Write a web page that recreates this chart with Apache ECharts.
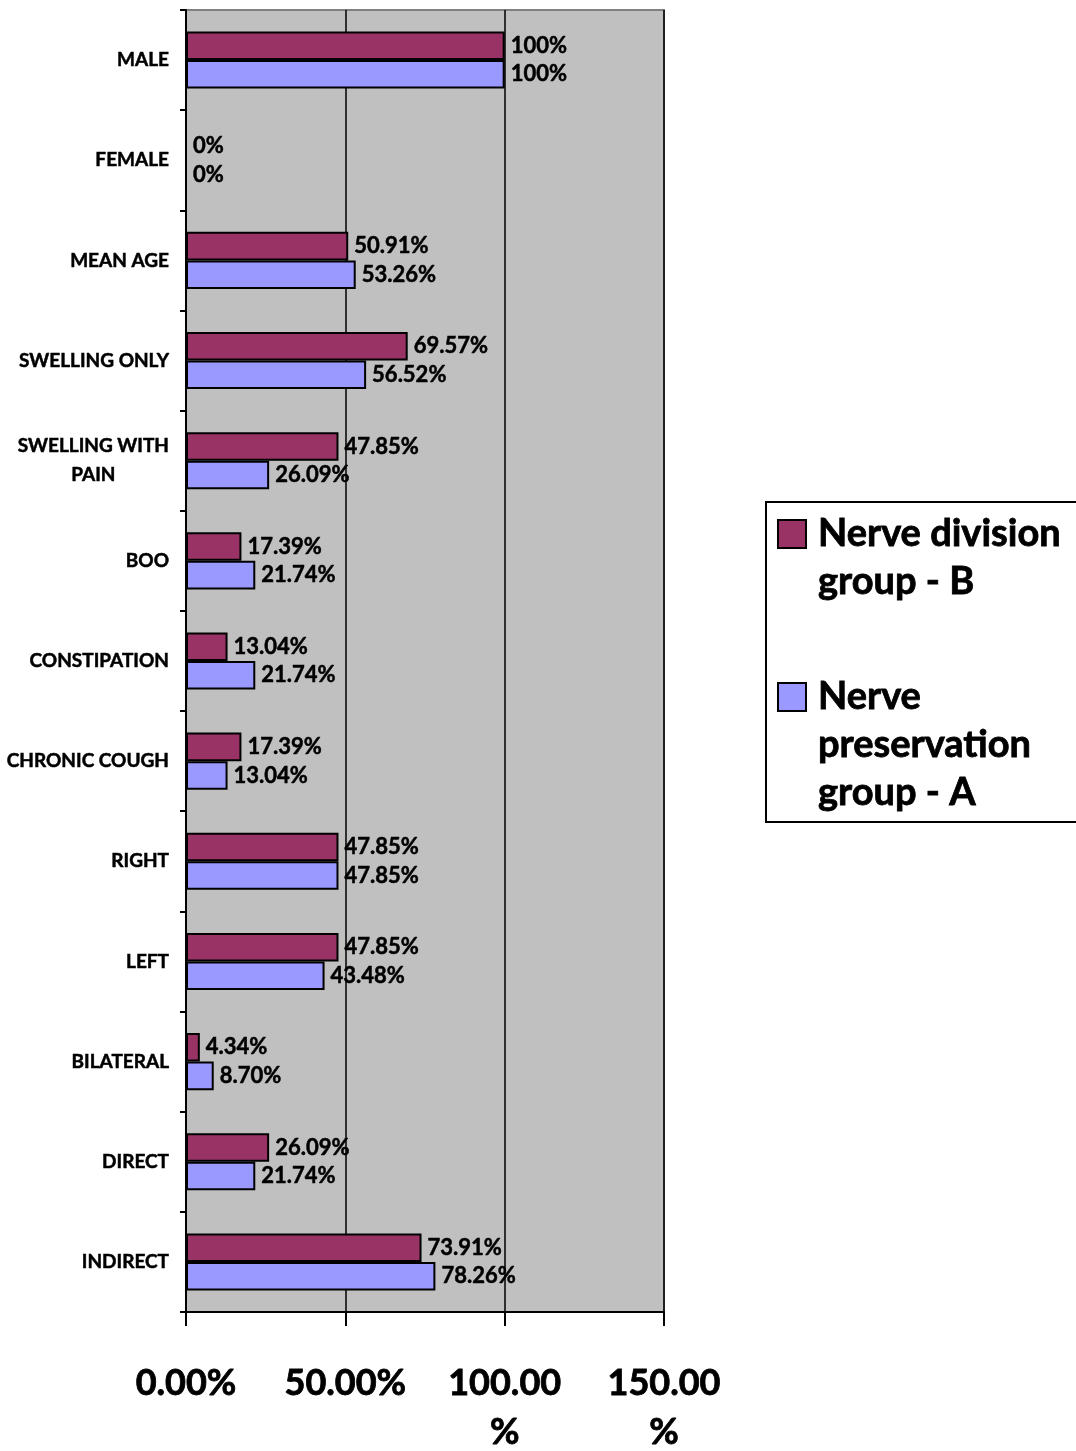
<!DOCTYPE html>
<html>
<head>
<meta charset="utf-8">
<script src="https://cdn.jsdelivr.net/npm/echarts@6/dist/echarts.min.js"></script>
<style>
  html, body { margin: 0; padding: 0; background: #ffffff; }
  #chart { width: 1076px; height: 1451px; }
</style>
</head>
<body>
<div id="chart"></div>
<script>
// Patient characteristics, percentage per group
var categories = [
  'MALE', 'FEMALE', 'MEAN AGE', 'SWELLING ONLY', 'SWELLING WITH\nPAIN', 'BOO',
  'CONSTIPATION', 'CHRONIC COUGH', 'RIGHT', 'LEFT', 'BILATERAL', 'DIRECT', 'INDIRECT'
];
var divisionB = [100, 0, 50.91, 69.57, 47.85, 17.39, 13.04, 17.39, 47.85, 47.85, 4.34, 26.09, 73.91];
var preservationA = [100, 0, 53.26, 56.52, 26.09, 21.74, 21.74, 13.04, 47.85, 43.48, 8.70, 21.74, 78.26];
var seriesNames = ['Nerve division group - B', 'Nerve preservation group - A'];
var legendLines = [['Nerve division', 'group - B'], ['Nerve', 'preservation', 'group - A']];
var xTickLabels = { 0: '0.00%', 50: '50.00%', 100: '100.00\n%', 150: '150.00\n%' };

var FONT = 'Lato';
var WEIGHT = 'bold';

function pctLabel(v) {
  return Number.isInteger(v) ? v + '%' : v.toFixed(2) + '%';
}

// Legend icons sit beside the first line of each wrapped name: leading blank
// lines keep the text block centred on that first line.
function legendText(name) {
  var lines = legendLines[seriesNames.indexOf(name)];
  var pad = new Array(lines.length).join('\n');
  return pad + lines.join('\n');
}

var chart = echarts.init(document.getElementById('chart'), null, { renderer: 'canvas' });

var barLabel = {
  show: true,
  position: 'right',
  distance: 6,
  color: '#000000',
  fontFamily: FONT,
  fontWeight: WEIGHT,
  fontSize: 22,
  textBorderColor: '#000000',
  textBorderWidth: 0.5,
  formatter: function (p) { return pctLabel(p.value); }
};

chart.setOption({
  animation: false,
  backgroundColor: '#ffffff',
  grid: {
    left: 186, right: 412, top: 10, bottom: 139,
    outerBoundsMode: 'none',
    containLabel: false,
    show: true,
    backgroundColor: '#C0C0C0',
    borderColor: '#808080',
    borderWidth: 2
  },
  graphic: [{
    type: 'rect',
    shape: { x: 766, y: 502, width: 330, height: 320 },
    style: { fill: '#ffffff', stroke: '#000000', lineWidth: 2 },
    z: -1
  }],
  legend: {
    orient: 'vertical',
    left: 777,
    top: 462,
    padding: 0,
    itemGap: -29,
    itemWidth: 28,
    itemHeight: 28,
    icon: 'rect',
    itemStyle: { borderColor: '#000000', borderWidth: 2 },
    textStyle: {
      fontFamily: FONT,
      fontWeight: WEIGHT,
      fontSize: 38,
      lineHeight: 48,
      color: '#000000',
      textBorderColor: '#000000',
      textBorderWidth: 0.8,
      padding: [0, 0, 0, 7]
    },
    data: seriesNames,
    formatter: legendText
  },
  xAxis: {
    type: 'value',
    min: 0,
    max: 150,
    interval: 50,
    axisLine: { show: true, lineStyle: { color: '#000000', width: 2 } },
    axisTick: { show: true, length: 14, lineStyle: { color: '#000000', width: 2 } },
    splitLine: { show: true, lineStyle: { color: '#000000', width: 1.5 } },
    axisLabel: {
      margin: 47,
      fontFamily: FONT,
      fontWeight: WEIGHT,
      fontSize: 36,
      lineHeight: 49,
      color: '#000000',
      textBorderColor: '#000000',
      textBorderWidth: 0.8,
      formatter: function (v) { return xTickLabels[v]; }
    }
  },
  yAxis: {
    type: 'category',
    inverse: true,
    data: categories,
    axisLine: { show: true, lineStyle: { color: '#000000', width: 2 } },
    axisTick: { show: true, length: 6, lineStyle: { color: '#000000', width: 2 } },
    axisLabel: {
      margin: 17,
      formatter: function (v) {
        return v.split('\n').map(function (s) { return '{c|' + s + '}'; }).join('\n');
      },
      rich: {
        c: {
          align: 'center',
          fontFamily: FONT,
          fontWeight: WEIGHT,
          fontSize: 19,
          lineHeight: 29,
          color: '#000000',
          textBorderColor: '#000000',
          textBorderWidth: 0.5
        }
      }
    }
  },
  series: [{
    name: seriesNames[0],
    type: 'bar',
    data: divisionB,
    barGap: '0%',
    barCategoryGap: '43%',
    itemStyle: { color: '#993366', borderColor: '#000000', borderWidth: 2 },
    label: barLabel
  }, {
    name: seriesNames[1],
    type: 'bar',
    data: preservationA,
    barGap: '0%',
    barCategoryGap: '43%',
    itemStyle: { color: '#9999FF', borderColor: '#000000', borderWidth: 2 },
    label: barLabel
  }]
});
</script>
</body>
</html>
